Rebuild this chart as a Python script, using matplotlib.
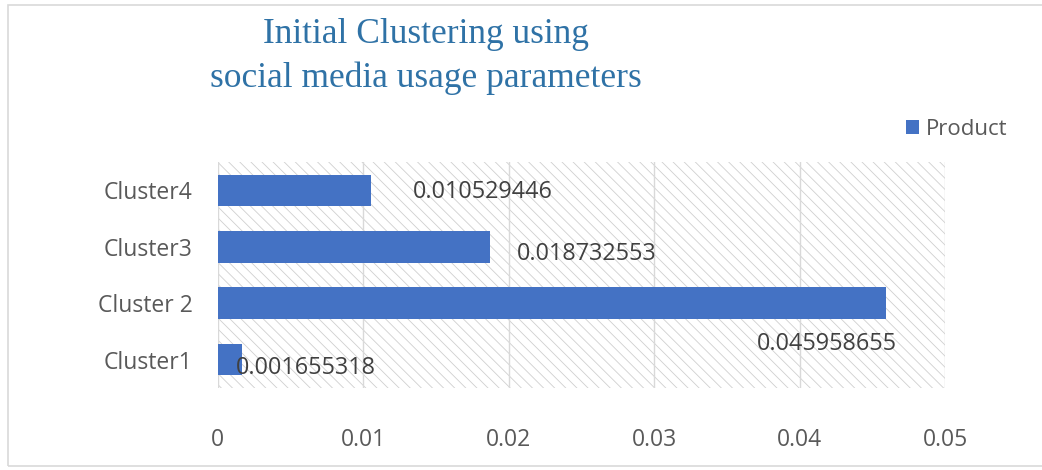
import matplotlib.pyplot as plt
from matplotlib.patches import Rectangle

# 聚类结果数据
clusters = ['Cluster1', 'Cluster 2', 'Cluster3', 'Cluster4']
product = [0.001655318, 0.045958655, 0.018732553, 0.010529446]
value_labels = ['0.001655318', '0.045958655', '0.018732553', '0.010529446']
xticks = [0, 0.01, 0.02, 0.03, 0.04, 0.05]
xtick_labels = ['0', '0.01', '0.02', '0.03', '0.04', '0.05']

# 数据标签相对柱子末端的偏移(像素)
label_offsets = [(-6, -8), (-129, -41), (27, -7), (42, -2)]

plt.rcParams['font.family'] = ['Open Sans', 'DejaVu Sans']
plt.rcParams['hatch.linewidth'] = 0.6
plt.rcParams['hatch.color'] = '#cfcfcf'

fig = plt.figure(figsize=(10.42, 4.70), dpi=100)
ax = fig.add_axes([0.209, 0.175, 0.698, 0.480])

# 斜线底纹背景
ax.add_patch(Rectangle((0, 0), 1, 1, transform=ax.transAxes, facecolor='white',
                       edgecolor='#cfcfcf', hatch='\\\\\\', linewidth=0, zorder=0))

bars = ax.barh(clusters, product, height=0.56, color='#4472C4', zorder=3, label='Product')

for bar, txt, (dx, dy) in zip(bars, value_labels, label_offsets):
    ax.annotate(txt, (bar.get_width(), bar.get_y() + bar.get_height() / 2),
                xytext=(dx * 0.72, dy * 0.72), textcoords='offset points',
                ha='left', va='center', fontsize=16.8, color='#404040', zorder=4)

ax.set_xlim(0, 0.05)
ax.set_ylim(-0.5, 3.5)
ax.set_xticks(xticks)
ax.set_xticklabels(xtick_labels)
ax.grid(axis='x', color='#d9d9d9', linewidth=1, zorder=1)
ax.set_axisbelow(True)
for s in ax.spines.values():
    s.set_visible(False)
ax.tick_params(length=0, labelsize=16.5, colors='#595959')
ax.tick_params(axis='x', pad=29)
ax.tick_params(axis='y', pad=18)

# 标题
fig.text(0.409, 0.926, 'Initial Clustering using', ha='center', va='center',
         family='Liberation Serif', fontsize=25.5, color='#2F72A6')
fig.text(0.409, 0.834, 'social media usage parameters', ha='center', va='center',
         family='Liberation Serif', fontsize=25.5, color='#2F72A6')

# 图例
fig.legend(handles=[bars], labels=['Product'], loc='center left', bbox_to_anchor=(0.850, 0.724),
           frameon=False, fontsize=16, handlelength=0.6, handleheight=0.6,
           handletextpad=0.3, labelcolor='#595959')

# 外边框
fig.add_artist(Rectangle((0.008, 0.009), 1.2, 0.981, transform=fig.transFigure,
                         fill=False, edgecolor='#d9d9d9', linewidth=1.2))

plt.savefig('out.png', dpi=100)
